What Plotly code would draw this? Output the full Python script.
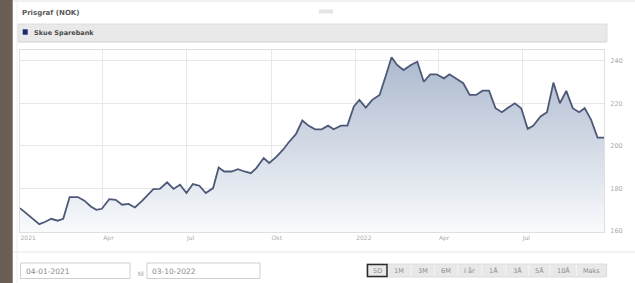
import plotly.graph_objects as go

# ---- data ----
dates = [
    "2021-01-01", "2021-01-22", "2021-01-28", "2021-02-04", "2021-02-11", "2021-02-17",
    "2021-02-24", "2021-03-05", "2021-03-12", "2021-03-19", "2021-03-25", "2021-03-31",
    "2021-04-08", "2021-04-15", "2021-04-22", "2021-04-29", "2021-05-06", "2021-05-14",
    "2021-05-26", "2021-06-02", "2021-06-10", "2021-06-17", "2021-06-24", "2021-07-01",
    "2021-07-08", "2021-07-15", "2021-07-22", "2021-07-30", "2021-08-05", "2021-08-11",
    "2021-08-19", "2021-08-26", "2021-09-02", "2021-09-09", "2021-09-15", "2021-09-23",
    "2021-09-29", "2021-10-07", "2021-10-14", "2021-10-20", "2021-10-28", "2021-11-04",
    "2021-11-11", "2021-11-18", "2021-11-25", "2021-12-02", "2021-12-08", "2021-12-16",
    "2021-12-23", "2021-12-30", "2022-01-05", "2022-01-12", "2022-01-19", "2022-01-27",
    "2022-02-03", "2022-02-09", "2022-02-15", "2022-02-22", "2022-03-02", "2022-03-09",
    "2022-03-16", "2022-03-23", "2022-03-30", "2022-04-07", "2022-04-13", "2022-04-20",
    "2022-04-28", "2022-05-05", "2022-05-12", "2022-05-19", "2022-05-26", "2022-06-02",
    "2022-06-09", "2022-06-16", "2022-06-23", "2022-06-30", "2022-07-07", "2022-07-13",
    "2022-07-21", "2022-07-28", "2022-08-04", "2022-08-11", "2022-08-18", "2022-08-25",
    "2022-09-01", "2022-09-07", "2022-09-14", "2022-09-21", "2022-09-28",
]
prices = [
    170.8, 163.3, 164.3, 165.8, 164.9, 165.8,
    176.0, 176.0, 174.3, 171.6, 170.0, 170.5,
    175.0, 174.7, 172.4, 172.8, 171.1, 174.3,
    179.7, 179.8, 182.9, 179.8, 181.8, 177.9,
    182.1, 181.3, 177.9, 180.2, 189.9, 188.0,
    188.0, 189.1, 188.0, 187.2, 189.6, 194.3,
    192.0, 195.0, 198.2, 201.6, 205.5, 211.9,
    209.4, 207.8, 207.8, 209.5, 207.8, 209.5,
    209.5, 218.5, 221.6, 218.0, 221.6, 223.9,
    233.3, 241.6, 238.0, 235.6, 238.0, 239.5,
    230.1, 233.6, 233.6, 231.7, 233.6, 231.7,
    229.4, 223.9, 223.9, 225.9, 225.9, 217.7,
    215.8, 218.0, 220.0, 217.7, 208.0, 209.4,
    213.8, 215.8, 229.7, 220.0, 225.8, 217.7,
    215.8, 217.7, 212.2, 203.9, 203.9,
]
x_tick_vals = ["2021-01-01", "2021-04-01", "2021-07-01", "2021-10-01",
               "2022-01-01", "2022-04-01", "2022-07-01"]
x_tick_text = ["2021", "Apr", "Jul", "Okt", "2022", "Apr", "Jul"]
y_tick_vals = [160, 180, 200, 220, 240]
series_name = "Skue Sparebank"
title_text = "Prisgraf (NOK)"
date_from = "04-01-2021"
date_to = "03-10-2022"
buttons = ["5D", "1M", "3M", "6M", "I år", "1Å", "3Å", "5Å", "10Å", "Maks"]

# ---- layout helpers (pixel -> paper) ----
W, H = 635, 283
L, R, T, B = 20, 604, 50, 232


def X(px):
    return (px - L) / (R - L)


def Y(py):
    return (B - py) / (B - T)


FONT = "DejaVu Sans"

fig = go.Figure()
fig.add_trace(go.Scatter(
    x=dates, y=prices, mode="lines", name=series_name,
    line=dict(color="#4d5977", width=1.8),
    fill="tozeroy",
    fillgradient=dict(type="vertical", start=160, stop=242,
                      colorscale=[[0, "rgba(248,250,252,1)"], [1, "rgba(172,185,206,1)"]]),
    hoverinfo="skip",
))

shapes = []
annotations = []

# left brown bar
shapes.append(dict(type="rect", xref="paper", yref="paper", x0=X(0), x1=X(12.7), y0=Y(H), y1=Y(0),
                   fillcolor="#6b5e54", line=dict(width=0), layer="below"))
# top line
shapes.append(dict(type="line", xref="paper", yref="paper", x0=X(13), x1=X(W), y0=Y(1), y1=Y(1),
                   line=dict(color="#e2e2e2", width=1)))
# faint vertical line
shapes.append(dict(type="line", xref="paper", yref="paper", x0=X(17), x1=X(17), y0=Y(1), y1=Y(H),
                   line=dict(color="#f0f0f0", width=1), layer="below"))
# small icon
shapes.append(dict(type="rect", xref="paper", yref="paper", x0=X(319), x1=X(333), y0=Y(13.5), y1=Y(9.5),
                   fillcolor="#e4e4e4", line=dict(width=0)))
# legend bar
shapes.append(dict(type="rect", xref="paper", yref="paper", x0=X(18), x1=X(607), y0=Y(41.5), y1=Y(24),
                   fillcolor="#e9e9e9", line=dict(color="#dedede", width=1)))
shapes.append(dict(type="line", xref="paper", yref="paper", x0=X(18), x1=X(607), y0=Y(42), y1=Y(42),
                   line=dict(color="#d6d6d6", width=1)))
shapes.append(dict(type="rect", xref="paper", yref="paper", x0=X(22.7), x1=X(27.7), y0=Y(34.7), y1=Y(29.3),
                   fillcolor="#1c2b6b", line=dict(width=0)))
# separator under chart
shapes.append(dict(type="line", xref="paper", yref="paper", x0=X(13), x1=X(W), y0=Y(252), y1=Y(252),
                   line=dict(color="#e6e6e6", width=1)))
# date boxes
for x0, x1 in [(20.5, 130), (147, 260)]:
    shapes.append(dict(type="rect", xref="paper", yref="paper", x0=X(x0), x1=X(x1), y0=Y(278.5), y1=Y(263),
                       fillcolor="white", line=dict(color="#cfcfcf", width=1)))
# button bar
shapes.append(dict(type="rect", xref="paper", yref="paper", x0=X(366.7), x1=X(606.7), y0=Y(277), y1=Y(264),
                   fillcolor="#e8e8e8", line=dict(color="#dddddd", width=1)))
btn_edges = [366.7, 387.7, 411, 434.3, 457.7, 481.7, 505.7, 529, 550, 576.7, 606.7]
for e in btn_edges[1:-1]:
    shapes.append(dict(type="line", xref="paper", yref="paper", x0=X(e), x1=X(e), y0=Y(276), y1=Y(265),
                       line=dict(color="#f6f6f6", width=1)))
# selected button
shapes.append(dict(type="rect", xref="paper", yref="paper", x0=X(367.5), x1=X(387), y0=Y(276.5), y1=Y(264.5),
                   fillcolor="rgba(0,0,0,0)", line=dict(color="#2b2b2b", width=1.5)))

# texts
annotations.append(dict(text="<b>" + title_text + "</b>", x=X(20), y=Y(13), xref="paper", yref="paper",
                        xanchor="left", yanchor="middle", showarrow=False,
                        font=dict(family=FONT, size=7, color="#5a5a5a")))
annotations.append(dict(text="<b>" + series_name + "</b>", x=X(31.5), y=Y(33), xref="paper", yref="paper",
                        xanchor="left", yanchor="middle", showarrow=False,
                        font=dict(family=FONT, size=6.5, color="#4a4a4a")))
annotations.append(dict(text=date_from, x=X(23.5), y=Y(271.5), xref="paper", yref="paper",
                        xanchor="left", yanchor="middle", showarrow=False,
                        font=dict(family=FONT, size=7.5, color="#8a8a8a")))
annotations.append(dict(text=date_to, x=X(150), y=Y(271.5), xref="paper", yref="paper",
                        xanchor="left", yanchor="middle", showarrow=False,
                        font=dict(family=FONT, size=7.5, color="#8a8a8a")))
annotations.append(dict(text="til", x=X(141), y=Y(273.5), xref="paper", yref="paper",
                        xanchor="center", yanchor="middle", showarrow=False,
                        font=dict(family=FONT, size=6, color="#8a8a8a")))
for i, b in enumerate(buttons):
    cx = (btn_edges[i] + btn_edges[i + 1]) / 2
    annotations.append(dict(text=b, x=X(cx), y=Y(270.5), xref="paper", yref="paper",
                            xanchor="center", yanchor="middle", showarrow=False,
                            font=dict(family=FONT, size=6.5, color="#8c8c8c")))

fig.update_layout(
    width=W, height=H,
    margin=dict(l=L, r=W - R, t=T, b=H - B, pad=0),
    paper_bgcolor="white", plot_bgcolor="white",
    showlegend=False,
    hovermode=False,
    shapes=shapes,
    annotations=annotations,
    xaxis=dict(
        type="date", range=["2021-01-01", "2022-09-28"],
        tickvals=x_tick_vals, ticktext=x_tick_text,
        ticklabelposition="outside right",
        showgrid=True, gridcolor="#e8e8e8", gridwidth=1,
        showline=True, linecolor="#e0e0e0", mirror=True,
        ticks="", tickfont=dict(family=FONT, size=6, color="#aaaaaa"),
        zeroline=False, fixedrange=True,
    ),
    yaxis=dict(
        range=[159.6, 245], side="right",
        tickvals=y_tick_vals,
        showgrid=True, gridcolor="#e8e8e8", gridwidth=1,
        showline=True, linecolor="#e0e0e0", mirror=True,
        ticks="", ticklabelstandoff=4,
        tickfont=dict(family=FONT, size=6.5, color="#aaaaaa"),
        zeroline=False, fixedrange=True,
    ),
)

fig.write_html(
    "out.html",
    config={"displayModeBar": False, "staticPlot": True},
    post_script="document.body.style.margin='0';document.body.style.overflow='hidden';",
)
